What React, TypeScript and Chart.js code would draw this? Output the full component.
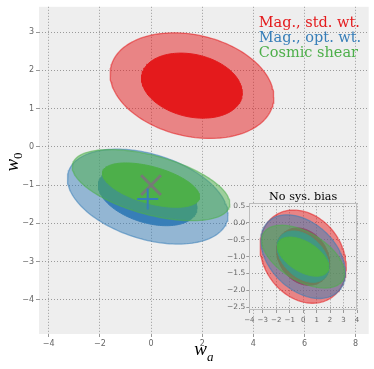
import React, { useEffect, useRef } from "react";
import { Chart, registerables } from "chart.js";

Chart.register(...registerables);

// ---------- data ----------
const seriesNames = ["Mag., std. wt.", "Mag., opt. wt.", "Cosmic shear"];
const seriesColors = ["#E41A1C", "#377EB8", "#4DAF4A"];

// main panel: ellipse centres (with systematic bias)
const mainCenterWa = [1.6, -0.13, 0.0];
const mainCenterW0 = [1.6, -1.3, -1.0];
// inset panel: ellipse centres (no systematic bias)
const insetCenterWa = [0.0, 0.0, 0.0];
const insetCenterW0 = [-1.0, -1.0, -1.0];
// ellipse half-extents along w_a and w_0 (outer = 95%, inner = 68%) and correlation
const outerHalfWa = [3.2, 3.14, 3.08];
const outerHalfW0 = [1.38, 1.24, 0.93];
const innerHalfWa = [1.97, 1.93, 1.9];
const innerHalfW0 = [0.85, 0.76, 0.58];
const correlation = [-0.22, -0.38, -0.52];

// markers
const fiducialWa = [0];
const fiducialW0 = [-1];
const biasedWa = [-0.13];
const biasedW0 = [-1.36];

// ticks
const mainXTicks = [-4, -2, 0, 2, 4, 6, 8];
const mainYTicks = [-4, -3, -2, -1, 0, 1, 2, 3];
const insetXTicks = [-4, -3, -2, -1, 0, 1, 2, 3, 4];
const insetYTicks = [-2.5, -2, -1.5, -1, -0.5, 0, 0.5];

const insetTitle = "No sys. bias";

// ---------- helpers ----------
function rgba(hex: string, a: number) {
  const r = parseInt(hex.slice(1, 3), 16);
  const g = parseInt(hex.slice(3, 5), 16);
  const b = parseInt(hex.slice(5, 7), 16);
  return `rgba(${r},${g},${b},${a})`;
}

function ellipse(cx: number, cy: number, hx: number, hy: number, rho: number) {
  const pts: { x: number; y: number }[] = [];
  const s = Math.sqrt(1 - rho * rho);
  const n = 160;
  for (let i = 0; i <= n; i++) {
    const t = (2 * Math.PI * i) / n;
    pts.push({ x: cx + hx * Math.cos(t), y: cy + hy * (rho * Math.cos(t) + s * Math.sin(t)) });
  }
  return pts;
}

const fmtInt = (v: number) => (v < 0 ? "\u2212" : "") + Math.abs(v);
const fmt1 = (v: number) => (v < 0 ? "\u2212" : "") + Math.abs(v).toFixed(1);

function ellipseDatasets(cWa: number[], cW0: number[]) {
  const ds: any[] = [];
  seriesColors.forEach((c, i) => {
    ds.push({
      data: ellipse(cWa[i], cW0[i], outerHalfWa[i], outerHalfW0[i], correlation[i]),
      showLine: true,
      fill: "shape",
      backgroundColor: rgba(c, 0.5),
      borderColor: rgba(c, 0.55),
      borderWidth: 1.3,
      pointRadius: 0,
      tension: 0,
    });
    ds.push({
      data: ellipse(cWa[i], cW0[i], innerHalfWa[i], innerHalfW0[i], correlation[i]),
      showLine: true,
      fill: "shape",
      backgroundColor: rgba(c, 1),
      borderColor: rgba(c, 1),
      borderWidth: 1,
      pointRadius: 0,
      tension: 0,
    });
  });
  return ds;
}

function withOrder(ds: any[]) {
  // first in list = drawn first (at the back)
  return ds.map((d, i) => ({ ...d, order: ds.length - i }));
}

const GRID = "#9a9a9a";
const TICKCOL = "#666666";

function axisOpts(min: number, max: number, ticks: number[], fmt: (v: number) => string, fit: (s: any) => void, size: number, pad: number) {
  return {
    type: "linear",
    min,
    max,
    afterBuildTicks: (s: any) => {
      s.ticks = ticks.map((v) => ({ value: v }));
    },
    afterFit: fit,
    ticks: {
      autoSkip: false,
      maxRotation: 0,
      font: { family: '"DejaVu Sans"', size },
      color: TICKCOL,
      padding: pad,
      callback: (v: any) => fmt(Number(v)),
    },
    grid: { color: GRID, lineWidth: 1, tickLength: 3, tickColor: "#999", tickWidth: 1, drawTicks: true },
    border: { display: false, dash: [1, 2] },
  };
}

export default function App() {
  const mainRef = useRef<HTMLCanvasElement>(null);
  const insetRef = useRef<HTMLCanvasElement>(null);

  useEffect(() => {
    const bgPlugin = {
      id: "bg",
      beforeDraw(chart: any) {
        const { ctx, chartArea: a } = chart;
        ctx.save();
        ctx.fillStyle = "#EEEEEE";
        ctx.fillRect(a.left, a.top, a.right - a.left, a.bottom - a.top);
        ctx.restore();
      },
    };

    const mainText = {
      id: "mainText",
      afterDraw(chart: any) {
        const { ctx, chartArea: a } = chart;
        ctx.save();
        // legend
        ctx.font = '14.5px "DejaVu Serif"';
        ctx.textAlign = "left";
        ctx.textBaseline = "alphabetic";
        seriesNames.forEach((n, i) => {
          ctx.fillStyle = seriesColors[i];
          ctx.fillText(n, 258.7, 26.7 + 15.3 * i);
        });
        // axis labels
        const big = 'italic 19px "Liberation Serif"';
        const small = 'italic 13px "Liberation Serif"';
        const smallUp = '13px "Liberation Serif"';
        ctx.fillStyle = "#000";
        // x label w_a
        ctx.font = big;
        const ww = ctx.measureText("w").width;
        ctx.font = small;
        const aw = ctx.measureText("a").width;
        const cx = (a.left + a.right) / 2;
        let x0 = cx - (ww + aw) / 2;
        ctx.font = big;
        ctx.fillText("w", x0, 355);
        ctx.font = small;
        ctx.fillText("a", x0 + ww, 360.5);
        // y label w_0
        ctx.font = smallUp;
        const zw = ctx.measureText("0").width;
        ctx.translate(18, 162);
        ctx.rotate(-Math.PI / 2);
        x0 = -(ww + zw) / 2;
        ctx.font = big;
        ctx.fillText("w", x0, 0);
        ctx.font = smallUp;
        ctx.fillText("0", x0 + ww, 4);
        ctx.restore();
      },
    };

    const mainDs = withOrder([
      ...ellipseDatasets(mainCenterWa, mainCenterW0),
      {
        data: fiducialWa.map((v, i) => ({ x: v, y: fiducialW0[i] })),
        showLine: false,
        pointStyle: "crossRot",
        pointRadius: 14,
        pointBorderColor: "rgba(120,120,120,0.95)",
        pointBorderWidth: 3,
      },
      {
        data: biasedWa.map((v, i) => ({ x: v, y: biasedW0[i] })),
        showLine: false,
        pointStyle: "cross",
        pointRadius: 10.5,
        pointBorderColor: seriesColors[1],
        pointBorderWidth: 2,
      },
    ]);

    const main = new Chart(mainRef.current as HTMLCanvasElement, {
      type: "scatter",
      data: { datasets: mainDs },
      options: {
        responsive: false,
        animation: false,
        events: [],
        layout: { autoPadding: false, padding: { left: 0, top: 5, right: 5.3, bottom: 0 } },
        plugins: { legend: { display: false }, tooltip: { enabled: false } },
        scales: {
          x: axisOpts(-4.38, 8.51, mainXTicks, fmtInt, (s: any) => { s.height = 35; }, 8, 2),
          y: axisOpts(-4.89, 3.66, mainYTicks, fmtInt, (s: any) => { s.width = 39; }, 8, 2),
        },
      } as any,
      plugins: [bgPlugin, mainText],
    } as any);

    const insetDeco = {
      id: "insetDeco",
      afterDraw(chart: any) {
        const { ctx, chartArea: a } = chart;
        ctx.save();
        ctx.strokeStyle = "#bcbcbc";
        ctx.lineWidth = 1;
        ctx.strokeRect(Math.round(a.left) + 0.5, Math.round(a.top) + 0.5, Math.round(a.right - a.left) - 1, Math.round(a.bottom - a.top) - 1);
        ctx.fillStyle = "#000";
        ctx.font = '11.2px "DejaVu Serif"';
        ctx.textAlign = "center";
        ctx.textBaseline = "alphabetic";
        ctx.fillText(insetTitle, (a.left + a.right) / 2, 20);
        ctx.restore();
      },
    };

    const inset = new Chart(insetRef.current as HTMLCanvasElement, {
      type: "scatter",
      data: { datasets: withOrder(ellipseDatasets(insetCenterWa, insetCenterW0)) },
      options: {
        responsive: false,
        animation: false,
        events: [],
        layout: { autoPadding: false, padding: { left: 0, top: 23.3, right: 17, bottom: 0 } },
        plugins: { legend: { display: false }, tooltip: { enabled: false } },
        scales: {
          x: axisOpts(-4, 4, insetXTicks, fmtInt, (s: any) => { s.height = 20; }, 7, 3),
          y: axisOpts(-2.58, 0.58, insetYTicks, fmt1, (s: any) => { s.width = 34.3; }, 7.5, 1),
        },
      } as any,
      plugins: [bgPlugin, insetDeco],
    } as any);

    return () => {
      main.destroy();
      inset.destroy();
    };
  }, []);

  return (
    <div style={{ position: "fixed", left: 0, top: 0, width: 374, height: 369, background: "#fff" }}>
      <canvas ref={mainRef} width={374} height={369} style={{ position: "absolute", left: 0, top: 0, width: 374, height: 369 }} />
      <canvas ref={insetRef} width={159} height={150} style={{ position: "absolute", left: 215, top: 180, width: 159, height: 150 }} />
    </div>
  );
}
